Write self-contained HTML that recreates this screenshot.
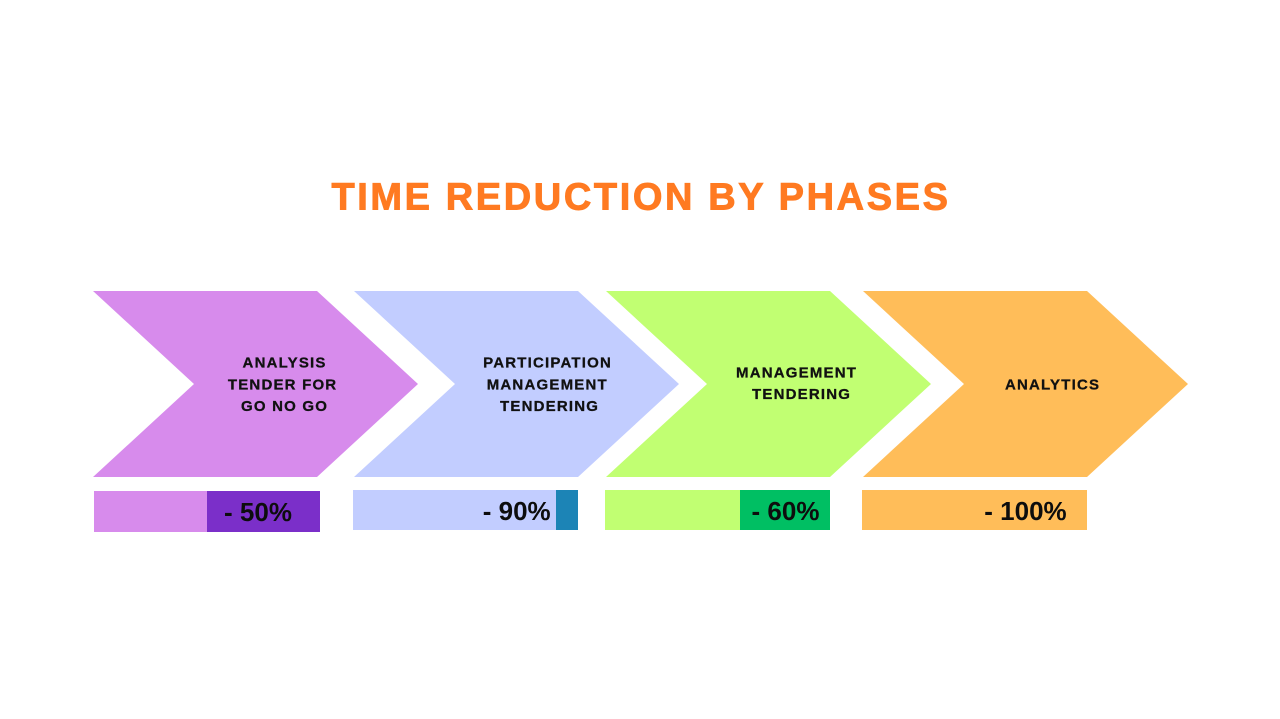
<!DOCTYPE html>
<html>
<head>
<meta charset="utf-8">
<style>
  html, body { margin:0; padding:0; background:#ffffff; }
  body { width:1280px; height:719px; overflow:hidden; }
  svg { display:block; }
  .lbl { font-family:"Liberation Sans", sans-serif; font-weight:bold; font-size:15px; fill:#111111; letter-spacing:1.2px; stroke:#111111; stroke-width:0.3px; }
  .pct { font-family:"Liberation Sans", sans-serif; font-weight:bold; font-size:26px; fill:#0d0d0d; }
  .title { font-family:"Liberation Sans", sans-serif; font-weight:bold; font-size:38px; fill:#FF7A21; letter-spacing:2.6px; stroke:#FF7A21; stroke-width:0.9px; }
</style>
</head>
<body>
<svg width="1280" height="719" viewBox="0 0 1280 719" xmlns="http://www.w3.org/2000/svg">
  <rect width="1280" height="719" fill="#ffffff"/>

  <!-- Title -->
  <text class="title" x="641" y="209.5" text-anchor="middle">TIME REDUCTION BY PHASES</text>

  <!-- Chevrons -->
  <polygon points="93,291 317,291 418,384 317,477 93,477 194,384" fill="#D78BEC"/>
  <polygon points="354,291 578,291 679,384 578,477 354,477 455,384" fill="#C2CDFF"/>
  <polygon points="606,291 830,291 931,384 830,477 606,477 707,384" fill="#C1FF72"/>
  <polygon points="863,291 1087,291 1188,384 1087,477 863,477 964,384" fill="#FFBD59"/>

  <!-- Chevron labels -->
  <text class="lbl" x="284.6" y="367.5" text-anchor="middle">ANALYSIS</text>
  <text class="lbl" x="282.6" y="389.5" text-anchor="middle">TENDER FOR</text>
  <text class="lbl" x="284.6" y="411" text-anchor="middle">GO NO GO</text>

  <text class="lbl" x="547.6" y="367.5" text-anchor="middle">PARTICIPATION</text>
  <text class="lbl" x="547.3" y="389.5" text-anchor="middle">MANAGEMENT</text>
  <text class="lbl" x="549.6" y="411" text-anchor="middle">TENDERING</text>

  <text class="lbl" x="796.6" y="377.5" text-anchor="middle">MANAGEMENT</text>
  <text class="lbl" x="801.6" y="399" text-anchor="middle">TENDERING</text>

  <text class="lbl" x="1052.6" y="389.5" text-anchor="middle">ANALYTICS</text>

  <!-- Bars -->
  <rect x="94" y="491" width="226" height="41" fill="#D78BEC"/>
  <rect x="207" y="491" width="113" height="41" fill="#7B2FC9"/>
  <text class="pct" x="258" y="521" text-anchor="middle">- 50%</text>

  <rect x="353" y="490" width="225" height="40" fill="#C2CDFF"/>
  <rect x="556" y="490" width="22" height="40" fill="#1C84B6"/>
  <text class="pct" x="516.7" y="520" text-anchor="middle">- 90%</text>

  <rect x="605" y="490" width="225" height="40" fill="#C1FF72"/>
  <rect x="740" y="490" width="90" height="40" fill="#00BF63"/>
  <text class="pct" x="785.5" y="520" text-anchor="middle">- 60%</text>

  <rect x="862" y="490" width="225" height="40" fill="#FFBD59"/>
  <text class="pct" x="1025.5" y="520" text-anchor="middle">- 100%</text>
</svg>
</body>
</html>
